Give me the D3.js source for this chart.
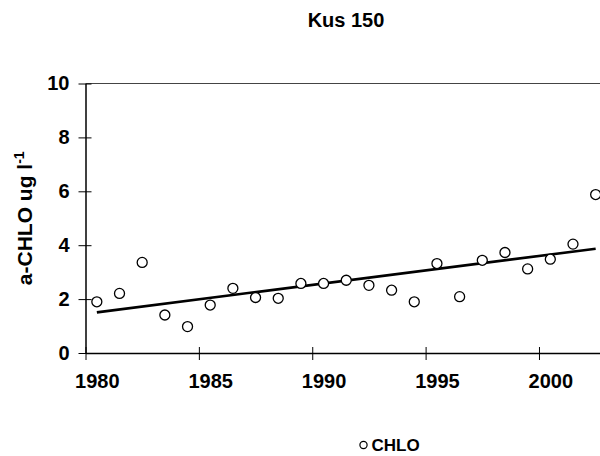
<!DOCTYPE html>
<html>
<head>
<meta charset="utf-8">
<script src="https://cdn.jsdelivr.net/npm/d3@7"></script>
<style>
  body { margin: 0; background: #fff; }
  text { font-family: Arial, "Liberation Sans", sans-serif; font-weight: bold; fill: #000; }
</style>
</head>
<body>
<div id="chart"></div>
<script>
// data
var years = [1980, 1981, 1982, 1983, 1984, 1985, 1986, 1987, 1988, 1989, 1990, 1991,
             1992, 1993, 1994, 1995, 1996, 1997, 1998, 1999, 2000, 2001, 2002];
var chlo = [1.90, 2.21, 3.36, 1.41, 0.98, 1.78, 2.40, 2.06, 2.03, 2.58, 2.58, 2.70,
            2.51, 2.33, 1.90, 3.32, 2.09, 3.44, 3.73, 3.12, 3.48, 4.04, 5.88];
var yTicks = [0, 2, 4, 6, 8, 10];
var xTicks = [1980, 1985, 1990, 1995, 2000];

var svgWidth = 600;
var svgHeight = 456;

var margin = { top: 83.5, right: -7, bottom: 103, left: 85.5 };
var width = svgWidth - margin.left - margin.right;
var height = svgHeight - margin.top - margin.bottom;

var svg = d3.select("#chart")
    .append("svg")
    .attr("width", svgWidth)
    .attr("height", svgHeight);

var chartGroup = svg.append("g")
    .attr("transform", `translate(${margin.left}, ${margin.top})`);

var data = years.map(function (y, i) {
    return { year: y, value: chlo[i] };
});

// scales (one slot per year, points in the middle of the slot)
var xScale = d3.scaleLinear()
    .domain([1980, 2003])
    .range([0, width]);

var yScale = d3.scaleLinear()
    .domain([0, 10])
    .range([height, 0]);

var halfYear = xScale(1980.5) - xScale(1980);

// plot area border (top)
chartGroup.append("line")
    .attr("x1", 0).attr("x2", width)
    .attr("y1", 0).attr("y2", 0)
    .attr("stroke", "#444")
    .attr("stroke-width", 1);

// axes
var bottomAxis = d3.axisBottom(xScale).tickValues(xTicks).tickFormat(d3.format("d"))
    .tickSizeInner(7).tickSizeOuter(0).tickPadding(14);
var leftAxis = d3.axisLeft(yScale).tickValues(yTicks)
    .tickSizeInner(7).tickSizeOuter(0).tickPadding(9);

var xAxisG = chartGroup.append("g")
    .attr("transform", `translate(0, ${height})`)
    .call(bottomAxis);
var yAxisG = chartGroup.append("g")
    .call(leftAxis);

[xAxisG, yAxisG].forEach(function (g) {
    g.select(".domain").attr("stroke", "#000").attr("stroke-width", 1.5);
    g.selectAll(".tick line").attr("stroke", "#000").attr("stroke-width", 1);
    g.selectAll("text")
        .attr("fill", "#000")
        .style("font-family", "Arial, 'Liberation Sans', sans-serif")
        .style("font-weight", "bold")
        .style("font-size", "20px");
});
// ticks cross the axis; year labels sit in the middle of their slot
xAxisG.selectAll(".tick line").attr("y1", -6);
xAxisG.selectAll(".tick text").attr("x", halfYear);
yAxisG.selectAll(".tick line").attr("x1", 6);

// linear trend (least squares), plotted at mid-year
var xs = data.map(d => d.year + 0.5);
var xMean = d3.mean(xs);
var yMean = d3.mean(chlo);
var slope = d3.sum(xs, (x, i) => (x - xMean) * (chlo[i] - yMean)) /
            d3.sum(xs, x => (x - xMean) * (x - xMean));
var intercept = yMean - slope * xMean;
var xEnds = d3.extent(xs);

chartGroup.append("line")
    .attr("x1", xScale(xEnds[0]))
    .attr("y1", yScale(intercept + slope * xEnds[0]))
    .attr("x2", xScale(xEnds[1]))
    .attr("y2", yScale(intercept + slope * xEnds[1]))
    .attr("stroke", "#000")
    .attr("stroke-width", 2.6);

// points
chartGroup.selectAll("circle.pt")
    .data(data)
    .enter()
    .append("circle")
    .attr("class", "pt")
    .attr("cx", d => xScale(d.year + 0.5))
    .attr("cy", d => yScale(d.value))
    .attr("r", 5)
    .attr("fill", "#fff")
    .attr("stroke", "#000")
    .attr("stroke-width", 1.3);

// title
svg.append("text")
    .attr("x", 346)
    .attr("y", 27)
    .attr("text-anchor", "middle")
    .style("font-size", "20px")
    .text("Kus 150");

// y axis label
var yLabel = svg.append("text")
    .attr("transform", `translate(32, ${margin.top + height / 2}) rotate(-90)`)
    .attr("text-anchor", "middle")
    .style("font-size", "21px");
yLabel.append("tspan").text("a-CHLO ug l");
yLabel.append("tspan").attr("dy", -8).style("font-size", "14px").text("-1");

// legend
svg.append("circle")
    .attr("cx", 363.5)
    .attr("cy", 445)
    .attr("r", 3.6)
    .attr("fill", "#fff")
    .attr("stroke", "#000")
    .attr("stroke-width", 1.2);
svg.append("text")
    .attr("x", 371.5)
    .attr("y", 451)
    .style("font-size", "17px")
    .text("CHLO");
</script>
</body>
</html>
